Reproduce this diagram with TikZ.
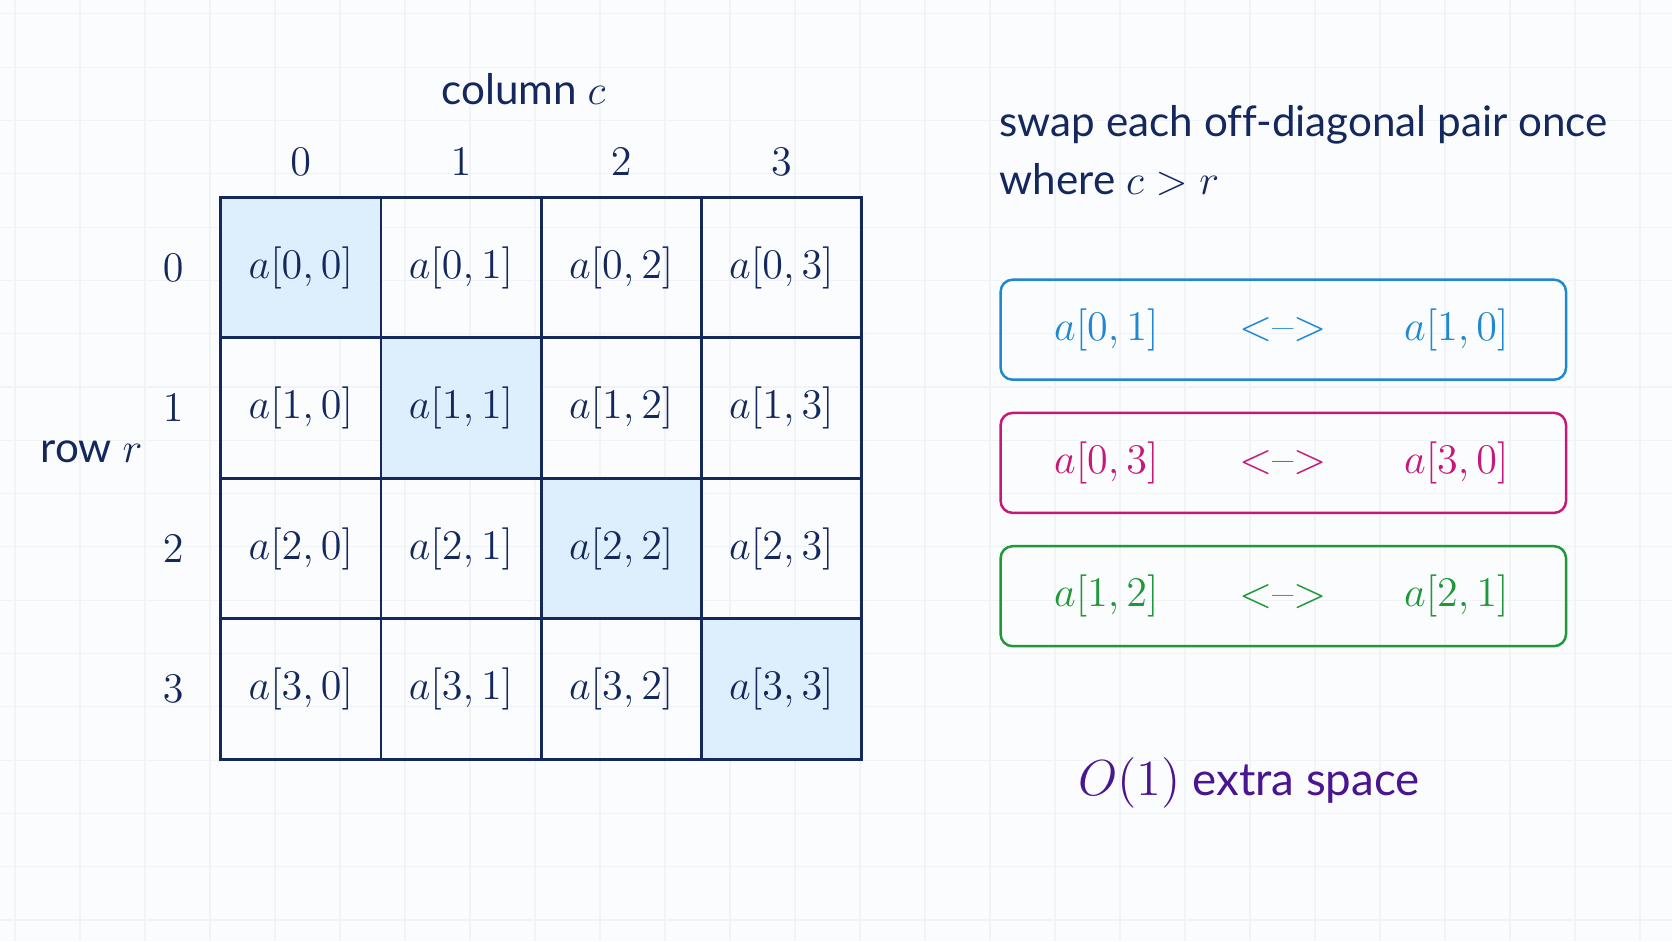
\documentclass[tikz,border=0pt]{standalone}
\usepackage{fontspec}
\setsansfont{Lato}[Ligatures=NoCommon]
\usetikzlibrary{positioning,calc}

\definecolor{navy}{HTML}{14285E}
\definecolor{diagfill}{HTML}{DDEFFC}
\definecolor{swapblue}{HTML}{1F88D2}
\definecolor{swapmag}{HTML}{C8177A}
\definecolor{swapgreen}{HTML}{1E9838}
\definecolor{spacepurple}{HTML}{4A1590}
\definecolor{gridgray}{HTML}{F1F3F6}
\definecolor{paper}{HTML}{FBFCFD}

\tikzset{
  cell/.style={draw=navy, line width=0.8pt, minimum width=1.602cm, minimum height=1.405cm,
    inner sep=0pt, text=navy, font=\fontsize{12.4}{15}\selectfont},
  idx/.style={text=navy, inner sep=0pt, font=\fontsize{12.5}{15}\selectfont},
  lbl/.style={text=navy, inner sep=0pt, font=\sffamily\fontsize{12}{14}\selectfont},
  pairbox/.style={draw=#1, line width=0.7pt, rounded corners=0.12cm,
    minimum width=5.654cm, minimum height=1.0cm},
  pairtxt/.style={text=#1, inner sep=0pt, font=\fontsize{12.4}{15}\selectfont},
}

\begin{document}
\begin{tikzpicture}
 \useasboundingbox (0,0) rectangle (16.72,9.41);
 \fill[paper] (0,0) rectangle (16.72,9.41);
 \draw[gridgray, line width=0.3pt, xstep=0.65, ystep=0.533, shift={(0.15,0.21)}]
   (-0.15,-0.21) grid (16.57,9.2);
 %
 \foreach \r in {0,...,3} {
   \foreach \c in {0,...,3} {
     \ifnum\r=\c \def\cellfill{diagfill}\else \def\cellfill{none}\fi
     \node[cell, fill=\cellfill] (c\r\c) at ({3.008+1.602*\c},{6.7345-1.405*\r}) {$a[\r,\c]$};
   }
 }
 \foreach \c in {0,...,3}
   \node[idx, above=0.2cm of c0\c.north] (col\c) {$\c$};
 \foreach \r in {0,...,3}
   \node[idx, left=0.35cm of c\r0.west] (row\r) {$\r$};
 \node[lbl, anchor=base] (coltitle) at (5.235,8.36) {column $c$};
 \node[lbl, anchor=base west] (rowtitle) at (0.40,4.78) {row $r$};
% \node[lbl] at (coltitle.north) {};
 \node[lbl, anchor=base west] (rule) at (9.99,8.04) {swap each off-diagonal pair once};
 \node[lbl, anchor=base west] (cond) at (9.99,7.46) {where $c>r$};
 %
 \node[pairbox=swapblue] (boxa) at (12.833,6.113) {};
 \node[pairbox=swapmag] (boxb) at (12.833,4.781) {};
 \node[pairbox=swapgreen] (boxc) at (12.833,3.448) {};
 \node[pairtxt=swapblue, right=0.54cm of boxa.west] (a01) {$a[0,1]$};
 \node[pairtxt=swapblue] (arra) at (boxa) {<\textendash>};
 \node[pairtxt=swapblue, left=0.58cm of boxa.east] (a10) {$a[1,0]$};
 \node[pairtxt=swapmag, right=0.54cm of boxb.west] (a03) {$a[0,3]$};
 \node[pairtxt=swapmag] (arrb) at (boxb) {<\textendash>};
 \node[pairtxt=swapmag, left=0.58cm of boxb.east] (a30) {$a[3,0]$};
 \node[pairtxt=swapgreen, right=0.54cm of boxc.west] (a12) {$a[1,2]$};
 \node[pairtxt=swapgreen] (arrc) at (boxc) {<\textendash>};
 \node[pairtxt=swapgreen, left=0.58cm of boxc.east] (a21) {$a[2,1]$};
 %
 \node[lbl, text=spacepurple, anchor=base, font=\sffamily\fontsize{13}{15}\selectfont] (space) at (12.49,1.46)
   {{\fontsize{13.6}{16}\selectfont$O(1)$} extra space};
\end{tikzpicture}
\end{document}
